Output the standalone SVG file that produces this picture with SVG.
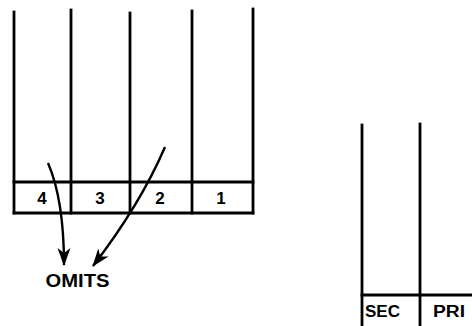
<svg xmlns="http://www.w3.org/2000/svg" width="472" height="326" viewBox="0 0 472 326">
  <style>
    .ln { stroke: #000; stroke-width: 2.8; fill: none; stroke-linecap: square; }
    .lbl { font-family: "Liberation Sans", Arial, sans-serif; font-weight: bold; fill: #000; text-anchor: middle; }
    .dig { font-size: 17px; }
    .arr { stroke: #000; stroke-width: 2.4; fill: none; }
  </style>
  <defs>
    <marker id="ah" viewBox="-18 -7 20 14" refX="0" refY="0" markerWidth="20" markerHeight="14" markerUnits="userSpaceOnUse" orient="auto">
      <path d="M1,0 L-17,-6.5 L-12,0 L-17,6.5 Z" fill="#000"/>
    </marker>
  </defs>
  <rect width="472" height="326" fill="#fff"/>

  <g id="bank-left">
    <line class="ln" x1="14" y1="12" x2="14" y2="213"/>
    <line class="ln" x1="71" y1="10" x2="71" y2="213"/>
    <line class="ln" x1="130" y1="13" x2="130" y2="213"/>
    <line class="ln" x1="192" y1="11" x2="192" y2="213"/>
    <line class="ln" x1="253" y1="9" x2="253" y2="213"/>
    <line class="ln" x1="14" y1="182" x2="253" y2="182"/>
    <line class="ln" x1="14" y1="213" x2="253" y2="213"/>
    <g id="cell-4"><text class="lbl dig" x="42" y="204">4</text></g>
    <g id="cell-3"><text class="lbl dig" x="100" y="204">3</text></g>
    <g id="cell-2"><text class="lbl dig" x="160" y="204">2</text></g>
    <g id="cell-1"><text class="lbl dig" x="221" y="204">1</text></g>
  </g>

  <g id="bank-right">
    <line class="ln" x1="362" y1="125" x2="362" y2="327"/>
    <line class="ln" x1="420" y1="124" x2="420" y2="327"/>
    <line class="ln" x1="362" y1="295" x2="473" y2="295"/>
    <g id="cell-sec"><text class="lbl" x="382.5" y="317" font-size="16" textLength="35" lengthAdjust="spacingAndGlyphs">SEC</text></g>
    <g id="cell-pri"><text class="lbl" x="449" y="317" font-size="16" textLength="32" lengthAdjust="spacingAndGlyphs">PRI</text></g>
  </g>

  <g id="omits">
    <text class="lbl" x="77.5" y="287" font-size="18" textLength="64" lengthAdjust="spacingAndGlyphs">OMITS</text>
  </g>

  <g id="connectors">
    <path class="arr" d="M48,163 Q64,200 64,265" marker-end="url(#ah)"/>
    <path class="arr" d="M165,147 Q140,205 93,266" marker-end="url(#ah)"/>
  </g>
</svg>
